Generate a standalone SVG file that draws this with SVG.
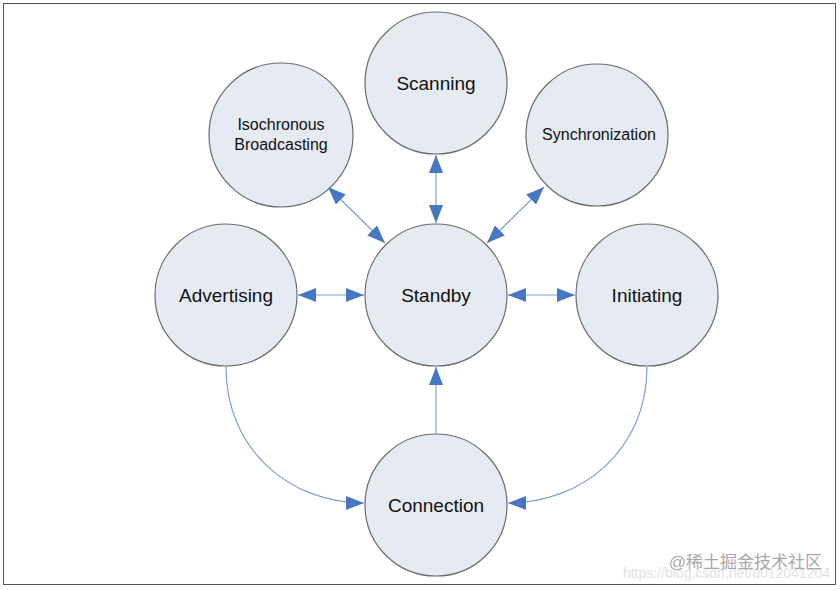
<svg xmlns="http://www.w3.org/2000/svg" width="840" height="590" viewBox="0 0 840 590">
<style>
.n circle{fill:#e6eaf3;stroke:#6b6b6b;stroke-width:1.2}
.n text{font-family:"Liberation Sans",Arial,sans-serif;font-size:19px;fill:#111;text-anchor:middle}
.n text.s{font-size:16px}
.c path{fill:none;stroke:#7d9fd3;stroke-width:1.2}
</style>
<defs>
<marker id="a" viewBox="0 0 18 14" refX="18" refY="7" markerWidth="18" markerHeight="14" markerUnits="userSpaceOnUse" orient="auto-start-reverse"><path d="M0,0L18,7L0,14z" fill="#4677c3"/></marker>
</defs>
<rect x="3.5" y="3.5" width="832" height="581" fill="#fff" stroke="#555" stroke-width="1"/>
<g class="c">
<path d="M436,155V223" marker-start="url(#a)" marker-end="url(#a)"/>
<path d="M328,187L385,243" marker-start="url(#a)" marker-end="url(#a)"/>
<path d="M544,187L487,243" marker-start="url(#a)" marker-end="url(#a)"/>
<path d="M298,295H364" marker-start="url(#a)" marker-end="url(#a)"/>
<path d="M508,295H575" marker-start="url(#a)" marker-end="url(#a)"/>
<path d="M436,433V367" marker-end="url(#a)"/>
<path d="M226,367C226,450 290,503 364,503" marker-end="url(#a)"/>
<path d="M647,367C647,450 582,503 508,503" marker-end="url(#a)"/>
</g>
<g id="scanning" class="n"><circle cx="436" cy="83" r="71"/><text x="436" y="90">Scanning</text></g>
<g id="isochronous" class="n"><circle cx="281" cy="135" r="72"/><text class="s" x="281" y="130">Isochronous</text><text class="s" x="281" y="150">Broadcasting</text></g>
<g id="synchronization" class="n"><circle cx="597" cy="135" r="71"/><text class="s" x="599" y="140">Synchronization</text></g>
<g id="advertising" class="n"><circle cx="226" cy="295" r="71"/><text x="226" y="302">Advertising</text></g>
<g id="standby" class="n"><circle cx="436" cy="295" r="71"/><text x="436" y="302">Standby</text></g>
<g id="initiating" class="n"><circle cx="647" cy="295" r="71"/><text x="647" y="302">Initiating</text></g>
<g id="connection" class="n"><circle cx="436" cy="505" r="71"/><text x="436" y="512">Connection</text></g>
<text x="830" y="578" text-anchor="end" font-family="Liberation Sans,sans-serif" font-size="14" fill="#e2e2e2">https://blog.csdn.net/u012041204</text>
<text x="822" y="568" text-anchor="end" font-family="Liberation Sans,'Noto Sans CJK SC',sans-serif" font-size="17" fill="#a8a8a8">@稀土掘金技术社区</text>
</svg>
